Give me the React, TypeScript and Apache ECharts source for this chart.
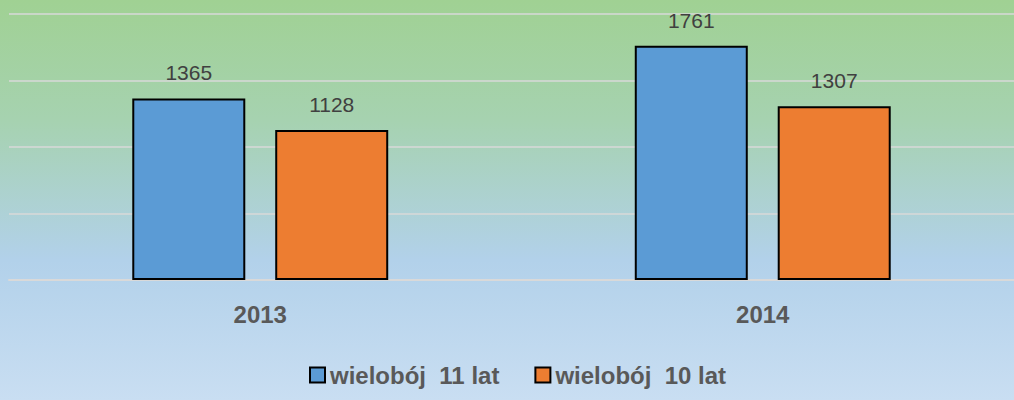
import React, { useEffect, useRef } from "react";
import * as echarts from "echarts";

const categories = ["2013", "2014"];
const series11 = [1365, 1761];
const series10 = [1128, 1307];
const seriesNames = ["wielobój  11 lat", "wielobój  10 lat"];

export default function App() {
  const ref = useRef<HTMLDivElement>(null);
  useEffect(() => {
    if (!ref.current) return;
    const chart = echarts.init(ref.current, undefined, { renderer: "svg" });
    const font = "'Liberation Sans', Arial, sans-serif";
    const label = {
      show: true,
      position: "top",
      distance: 15,
      color: "#404040",
      fontSize: 21,
      fontFamily: font,
    };
    chart.setOption({
      animation: false,
      backgroundColor: {
        type: "linear",
        x: 0,
        y: 0,
        x2: 0,
        y2: 1,
        colorStops: [
          { offset: 0, color: "#A0D193" },
          { offset: 0.3, color: "#A6D2B0" },
          { offset: 0.65, color: "#B2D1EA" },
          { offset: 1, color: "#C9DEF2" },
        ],
      },
      grid: { left: 9, right: 0, top: 14, bottom: 120, containLabel: false },
      legend: {
        left: 304,
        top: 358,
        itemWidth: 15,
        itemHeight: 15,
        itemGap: 35,
        icon: "rect",
        itemStyle: { borderColor: "#000", borderWidth: 2 },
        textStyle: {
          color: "#595959",
          fontSize: 24,
          fontWeight: "bold",
          fontFamily: font,
        },
        data: seriesNames,
      },
      xAxis: {
        type: "category",
        data: categories,
        axisLine: { show: true, lineStyle: { color: "#D9D9D9", width: 2 } },
        axisTick: { show: false },
        axisLabel: {
          color: "#595959",
          fontSize: 24,
          fontWeight: "bold",
          fontFamily: font,
          margin: 22,
        },
      },
      yAxis: {
        type: "value",
        min: 0,
        max: 2000,
        interval: 500,
        axisLabel: { show: false },
        axisLine: { show: false },
        axisTick: { show: false },
        splitLine: { lineStyle: { color: "#D9D9D9", width: 1.5 } },
      },
      series: [
        {
          name: seriesNames[0],
          type: "bar",
          data: series11,
          barWidth: 113,
          barGap: "26.5%",
          itemStyle: { color: "#5B9BD5", borderColor: "#000", borderWidth: 2 },
          label,
        },
        {
          name: seriesNames[1],
          type: "bar",
          data: series10,
          barWidth: 113,
          itemStyle: { color: "#ED7D31", borderColor: "#000", borderWidth: 2 },
          label,
        },
      ],
    });
    return () => chart.dispose();
  }, []);
  return (
    <div
      ref={ref}
      style={{ position: "absolute", left: 0, top: 0, width: 1014, height: 400 }}
    />
  );
}
